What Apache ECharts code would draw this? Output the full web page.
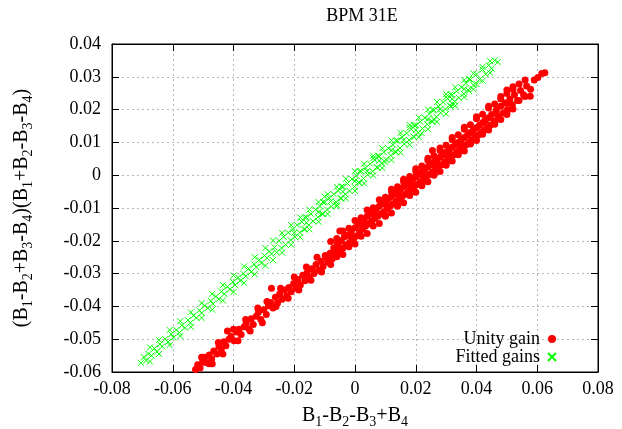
<!DOCTYPE html>
<html><head><meta charset="utf-8">
<script src="https://cdn.jsdelivr.net/npm/echarts@6/dist/echarts.min.js"></script>
<style>html,body{margin:0;padding:0;background:#fff}#c{width:622px;height:429px}</style>
</head><body><div id="c"></div>
<script>
const chartTitle = 'BPM 31E';
const xTicks = [-0.08,-0.06,-0.04,-0.02,0,0.02,0.04,0.06,0.08];
const yTicks = [-0.06,-0.05,-0.04,-0.03,-0.02,-0.01,0,0.01,0.02,0.03,0.04];
const seriesNames = ['Unity gain','Fitted gains'];
const unityGain = [
[-0.0525,-0.0592],[-0.0518,-0.0578],[-0.0510,-0.0588],[-0.0502,-0.0570],[-0.0495,-0.0555],[-0.0488,-0.0572],
[-0.0480,-0.0548],[-0.0472,-0.0560],[-0.0465,-0.0536],[-0.0455,-0.0545],[-0.0448,-0.0522],[-0.0440,-0.0530],
[-0.0432,-0.0508],[-0.0425,-0.0520],[-0.0415,-0.0500],[-0.0408,-0.0492],[-0.0398,-0.0505],[-0.0390,-0.0478],
[-0.0382,-0.0470],[-0.0375,-0.0486],[-0.0365,-0.0462],[-0.0358,-0.0450],[-0.0350,-0.0468],[-0.0342,-0.0438],
[-0.0335,-0.0455],[-0.0325,-0.0430],[-0.0318,-0.0418],[-0.0310,-0.0440],[-0.0300,-0.0410],[-0.0292,-0.0425],
[-0.0285,-0.0398],[-0.0278,-0.0388],[-0.0270,-0.0405],[-0.0262,-0.0372],[-0.0255,-0.0390],[-0.0248,-0.0362],
[-0.0240,-0.0378],[-0.0232,-0.0350],[-0.0225,-0.0368],[-0.0218,-0.0342],[-0.0210,-0.0355],[-0.0202,-0.0330],
[-0.0195,-0.0345],[-0.0188,-0.0318],[-0.0180,-0.0335],[-0.0172,-0.0305],[-0.0165,-0.0322],[-0.0158,-0.0298],
[-0.0150,-0.0312],[-0.0142,-0.0285],[-0.0135,-0.0300],[-0.0128,-0.0272],[-0.0120,-0.0290],[-0.0112,-0.0262],
[-0.0105,-0.0278],[-0.0098,-0.0245],[-0.0090,-0.0265],[-0.0082,-0.0238],[-0.0075,-0.0255],[-0.0070,-0.0222],
[-0.0065,-0.0240],[-0.0058,-0.0208],[-0.0052,-0.0232],[-0.0045,-0.0200],[-0.0040,-0.0222],[-0.0035,-0.0188],
[-0.0030,-0.0212],[-0.0022,-0.0182],[-0.0018,-0.0205],[-0.0012,-0.0172],[-0.0005,-0.0195],[0.0000,-0.0160],
[0.0005,-0.0185],[0.0010,-0.0150],[0.0015,-0.0172],[0.0020,-0.0140],[0.0025,-0.0165],[0.0030,-0.0135],
[0.0035,-0.0155],[0.0040,-0.0125],[0.0045,-0.0148],[0.0050,-0.0118],[0.0055,-0.0140],[0.0060,-0.0110],
[0.0065,-0.0132],[0.0070,-0.0102],[0.0075,-0.0125],[0.0080,-0.0095],[0.0085,-0.0118],[0.0090,-0.0088],
[0.0095,-0.0112],[0.0100,-0.0080],[0.0105,-0.0102],[0.0110,-0.0072],[0.0115,-0.0095],[0.0120,-0.0065],
[0.0125,-0.0088],[0.0130,-0.0058],[0.0135,-0.0080],[0.0140,-0.0050],[0.0145,-0.0072],[0.0150,-0.0042],
[0.0155,-0.0065],[0.0160,-0.0035],[0.0165,-0.0058],[0.0170,-0.0028],[0.0175,-0.0050],[0.0180,-0.0020],
[0.0185,-0.0042],[0.0190,-0.0012],[0.0195,-0.0035],[0.0200,-0.0005],[0.0205,-0.0028],[0.0210,0.0002],
[0.0215,-0.0020],[0.0220,0.0010],[0.0225,-0.0012],[0.0230,0.0018],[0.0235,-0.0005],[0.0240,0.0025],
[0.0245,0.0002],[0.0250,0.0032],[0.0255,0.0010],[0.0260,0.0040],[0.0265,0.0018],[0.0270,0.0048],
[0.0275,0.0025],[0.0280,0.0055],[0.0285,0.0032],[0.0290,0.0062],[0.0295,0.0040],[0.0300,0.0070],
[0.0305,0.0048],[0.0310,0.0078],[0.0315,0.0055],[0.0320,0.0085],[0.0325,0.0062],[0.0330,0.0092],
[0.0335,0.0070],[0.0340,0.0100],[0.0345,0.0078],[0.0350,0.0108],[0.0355,0.0085],[0.0360,0.0115],
[0.0365,0.0092],[0.0370,0.0122],[0.0375,0.0100],[0.0380,0.0130],[0.0385,0.0108],[0.0390,0.0138],
[0.0395,0.0115],[0.0400,0.0145],[0.0405,0.0122],[0.0410,0.0152],[0.0415,0.0130],[0.0420,0.0160],
[0.0425,0.0138],[0.0430,0.0168],[0.0435,0.0145],[0.0440,0.0175],[0.0445,0.0152],[0.0450,0.0185],
[0.0458,0.0165],[0.0465,0.0198],[0.0472,0.0178],[0.0480,0.0210],[0.0488,0.0190],[0.0495,0.0220],
[0.0502,0.0200],[0.0510,0.0232],[0.0518,0.0215],[0.0525,0.0245],[0.0535,0.0228],[0.0545,0.0258],
[0.0555,0.0245],[0.0565,0.0272],[0.0578,0.0262],[0.0590,0.0290],[0.0602,0.0298],[0.0615,0.0310],
[0.0625,0.0312],
[-0.0095,-0.0250],[-0.0055,-0.0218],[-0.0015,-0.0186],[0.0025,-0.0152],[0.0065,-0.0120],[0.0105,-0.0090],
[0.0145,-0.0058],[0.0185,-0.0026],[0.0225,0.0006],[0.0265,0.0036],[0.0305,0.0068],[0.0345,0.0100],
[0.0385,0.0132],[0.0425,0.0164],[0.0465,0.0190],[0.0505,0.0222],
[-0.0275,-0.0345],[-0.0050,-0.0170],[0.0100,-0.0125],[0.0255,0.0075],[0.0380,0.0095],[0.0577,0.0241],
[0.0500,0.0260],[-0.0420,-0.0475],[-0.0480,-0.0575],
[0.0120,-0.0050],[0.0160,-0.0020],[0.0200,0.0012],[0.0240,0.0045],[0.0280,0.0075],[0.0320,0.0108],
[0.0360,0.0140],[0.0400,0.0172],[0.0440,0.0205],[0.0480,0.0232],[0.0520,0.0262],
[0.0140,-0.0095],[0.0180,-0.0062],[0.0220,-0.0032],[0.0260,0.0000],[0.0300,0.0030],[0.0340,0.0062],
[0.0420,0.0125],[0.0460,0.0155],[0.0500,0.0185],
[-0.0505,-0.0555],[-0.0470,-0.0575],[-0.0450,-0.0510],[-0.0435,-0.0545],[-0.0400,-0.0470],[-0.0385,-0.0505],
[-0.0360,-0.0440],[-0.0345,-0.0475],[-0.0320,-0.0405],[-0.0305,-0.0450],[-0.0290,-0.0385],[-0.0260,-0.0400],
[-0.0245,-0.0345],[-0.0220,-0.0375],[-0.0200,-0.0310],[-0.0185,-0.0350],[-0.0160,-0.0280],[-0.0145,-0.0320],
[-0.0125,-0.0250],[-0.0110,-0.0295],
[-0.0080,-0.0202],[-0.0080,-0.0272],[-0.0040,-0.0170],[-0.0040,-0.0242],[0.0000,-0.0138],[0.0000,-0.0210],
[0.0040,-0.0106],[0.0040,-0.0178],[0.0080,-0.0075],[0.0080,-0.0147],[0.0120,-0.0043],[0.0120,-0.0115],
[0.0160,-0.0012],[0.0160,-0.0084],[0.0200,0.0020],[0.0200,-0.0052],[0.0240,0.0052],[0.0240,-0.0020],
[0.0280,0.0083],[0.0280,0.0011],[0.0320,0.0115],[0.0320,0.0043],[0.0360,0.0146],[0.0360,0.0074],
[0.0400,0.0178],[0.0400,0.0106],[0.0440,0.0210],[0.0440,0.0138],[0.0480,0.0240],[0.0480,0.0170],
[0.0520,0.0270],[0.0520,0.0202],[0.0560,0.0290],[0.0560,0.0240],
[-0.0060,-0.0193],[-0.0060,-0.0249],[-0.0020,-0.0162],[-0.0020,-0.0218],[0.0020,-0.0130],[0.0020,-0.0186],
[0.0060,-0.0099],[0.0060,-0.0155],[0.0100,-0.0067],[0.0100,-0.0123],[0.0140,-0.0035],[0.0140,-0.0091],
[0.0180,-0.0004],[0.0180,-0.0060],[0.0220,0.0028],[0.0220,-0.0028],[0.0260,0.0059],[0.0260,0.0003],
[0.0300,0.0091],[0.0300,0.0035],[0.0340,0.0123],[0.0340,0.0067],[0.0380,0.0154],[0.0380,0.0098],
[0.0420,0.0186],[0.0420,0.0130],[0.0460,0.0217],[0.0460,0.0161],[0.0500,0.0249],[0.0500,0.0193],
[0.0540,0.0278],[0.0540,0.0228]
];
const fittedGains = [
[-0.0705,-0.0572],[-0.0695,-0.0555],[-0.0688,-0.0565],[-0.0680,-0.0545],[-0.0670,-0.0550],[-0.0660,-0.0528],
[-0.0652,-0.0538],[-0.0642,-0.0515],[-0.0635,-0.0522],[-0.0625,-0.0500],[-0.0615,-0.0508],[-0.0605,-0.0485],
[-0.0598,-0.0495],[-0.0588,-0.0472],[-0.0578,-0.0480],[-0.0570,-0.0458],[-0.0560,-0.0465],[-0.0550,-0.0442],
[-0.0542,-0.0450],[-0.0532,-0.0428],[-0.0522,-0.0435],[-0.0512,-0.0412],[-0.0505,-0.0420],[-0.0495,-0.0398],
[-0.0485,-0.0405],[-0.0475,-0.0383],[-0.0468,-0.0392],[-0.0458,-0.0370],[-0.0448,-0.0378],[-0.0440,-0.0355],
[-0.0430,-0.0362],[-0.0420,-0.0340],[-0.0412,-0.0348],[-0.0402,-0.0325],[-0.0395,-0.0335],[-0.0385,-0.0312],
[-0.0378,-0.0322],[-0.0368,-0.0300],[-0.0360,-0.0308],[-0.0350,-0.0285],[-0.0342,-0.0295],[-0.0332,-0.0272],
[-0.0325,-0.0280],[-0.0315,-0.0258],[-0.0308,-0.0268],[-0.0298,-0.0245],[-0.0290,-0.0252],[-0.0282,-0.0232],
[-0.0275,-0.0240],[-0.0265,-0.0220],
[-0.0258,-0.0235],[-0.0250,-0.0200],[-0.0242,-0.0222],[-0.0235,-0.0188],[-0.0228,-0.0212],[-0.0220,-0.0175],
[-0.0212,-0.0198],[-0.0205,-0.0165],[-0.0198,-0.0188],[-0.0190,-0.0152],[-0.0182,-0.0175],[-0.0175,-0.0142],
[-0.0168,-0.0165],[-0.0160,-0.0128],[-0.0152,-0.0152],[-0.0145,-0.0118],[-0.0138,-0.0140],[-0.0130,-0.0105],
[-0.0122,-0.0128],[-0.0115,-0.0095],[-0.0108,-0.0118],[-0.0100,-0.0082],[-0.0092,-0.0105],[-0.0085,-0.0070],
[-0.0078,-0.0095],[-0.0070,-0.0058],[-0.0062,-0.0082],[-0.0055,-0.0048],[-0.0048,-0.0070],[-0.0040,-0.0035],
[-0.0032,-0.0058],[-0.0025,-0.0025],[-0.0018,-0.0048],[-0.0010,-0.0012],[-0.0002,-0.0035],[0.0005,-0.0002],
[0.0012,-0.0022],[0.0020,0.0012],[0.0028,-0.0010],[0.0035,0.0022],[0.0042,0.0002],[0.0050,0.0035],
[0.0058,0.0012],[0.0065,0.0046],[0.0072,0.0024],[0.0080,0.0058],[0.0088,0.0036],[0.0095,0.0070],
[0.0102,0.0048],[0.0110,0.0082],[0.0118,0.0060],[0.0125,0.0093],[0.0132,0.0072],[0.0140,0.0105],
[0.0148,0.0083],[0.0155,0.0117],[0.0162,0.0095],[0.0170,0.0128],[0.0178,0.0107],[0.0185,0.0140],
[0.0192,0.0118],[0.0200,0.0152],[0.0208,0.0130],[0.0215,0.0163],[0.0222,0.0142],[0.0230,0.0175],
[0.0238,0.0155],[0.0245,0.0187],[0.0252,0.0165],[0.0260,0.0198],[0.0268,0.0178],[0.0275,0.0210],
[0.0282,0.0190],[0.0290,0.0222],[0.0298,0.0202],[0.0305,0.0233],[0.0312,0.0213],[0.0320,0.0245],
[0.0328,0.0225],[0.0335,0.0256],[0.0342,0.0236],[0.0350,0.0268],[0.0358,0.0248],[0.0365,0.0280],
[0.0372,0.0260],[0.0380,0.0292],[0.0390,0.0275],[0.0400,0.0308],[0.0410,0.0292],[0.0420,0.0322],
[0.0430,0.0308],[0.0440,0.0335],[0.0450,0.0325],[0.0460,0.0350],[0.0470,0.0345],
[0.0400,0.0278],[0.0323,0.0215],
[-0.0200,-0.0176],[-0.0160,-0.0145],[-0.0120,-0.0112],[-0.0080,-0.0080],[-0.0040,-0.0050],[0.0000,-0.0018],
[0.0040,0.0012],[0.0080,0.0044],[0.0120,0.0076],[0.0160,0.0107],[0.0200,0.0138],[0.0240,0.0170],
[0.0280,0.0201],[0.0320,0.0232],[0.0360,0.0263],
[-0.0100,-0.0065],[-0.0060,-0.0090],[0.0060,0.0052],[0.0100,0.0040],[0.0180,0.0145],[0.0220,0.0128],
[0.0300,0.0238],[0.0260,0.0170],
[-0.0675,-0.0525],[-0.0675,-0.0568],[-0.0645,-0.0502],[-0.0645,-0.0545],[-0.0610,-0.0472],[-0.0610,-0.0518],
[-0.0575,-0.0445],[-0.0575,-0.0490],[-0.0540,-0.0418],[-0.0540,-0.0462],[-0.0505,-0.0390],[-0.0505,-0.0435],
[-0.0470,-0.0362],[-0.0470,-0.0410],[-0.0435,-0.0335],[-0.0435,-0.0382],[-0.0400,-0.0306],[-0.0400,-0.0356],
[-0.0365,-0.0278],[-0.0365,-0.0328],[-0.0330,-0.0250],[-0.0330,-0.0302],[-0.0295,-0.0222],[-0.0295,-0.0276],
[-0.0270,-0.0199],[-0.0270,-0.0259],[-0.0240,-0.0176],[-0.0240,-0.0236],[-0.0210,-0.0152],[-0.0210,-0.0212],
[-0.0180,-0.0129],[-0.0180,-0.0189],[-0.0150,-0.0105],[-0.0150,-0.0165],[-0.0120,-0.0082],[-0.0120,-0.0142],
[-0.0090,-0.0058],[-0.0090,-0.0118],[-0.0060,-0.0035],[-0.0060,-0.0095],[-0.0030,-0.0011],[-0.0030,-0.0071],
[0.0000,0.0012],[0.0000,-0.0048],[0.0030,0.0035],[0.0030,-0.0025],[0.0060,0.0059],[0.0060,-0.0001],
[0.0090,0.0082],[0.0090,0.0022],[0.0120,0.0106],[0.0120,0.0046],[0.0150,0.0129],[0.0150,0.0069],
[0.0180,0.0153],[0.0180,0.0093],[0.0210,0.0176],[0.0210,0.0116],[0.0240,0.0200],[0.0240,0.0140],
[0.0270,0.0223],[0.0270,0.0163],[0.0300,0.0247],[0.0300,0.0187],[0.0330,0.0268],[0.0330,0.0212],
[0.0360,0.0290],[0.0360,0.0238],[0.0390,0.0310],[0.0390,0.0262],[0.0420,0.0330],[0.0420,0.0288],
[0.0445,0.0348],[0.0445,0.0312],
[-0.0165,-0.0129],[-0.0165,-0.0165],[-0.0105,-0.0082],[-0.0105,-0.0118],[-0.0045,-0.0035],[-0.0045,-0.0071],
[0.0015,0.0012],[0.0015,-0.0024],[0.0075,0.0059],[0.0075,0.0023],[0.0135,0.0106],[0.0135,0.0070],
[0.0195,0.0152],[0.0195,0.0116],[0.0255,0.0199],[0.0255,0.0163],[0.0315,0.0246],[0.0315,0.0210],
[0.0375,0.0293],[0.0375,0.0257]
];

const serif = "'Liberation Serif','DejaVu Serif',serif";
const fmt = v => Math.abs(v) < 1e-9 ? '0' : v.toFixed(2);
const chart = echarts.init(document.getElementById('c'), null, {renderer: 'canvas'});
const xMin = xTicks[0], xMax = xTicks[xTicks.length-1], xInt = +(xTicks[1]-xTicks[0]).toFixed(4);
const yMin = yTicks[0], yMax = yTicks[yTicks.length-1], yInt = +(yTicks[1]-yTicks[0]).toFixed(4);
const tickStyle = {show: true, inside: true, length: 7, lineStyle: {color: '#000', width: 1}};
const splitStyle = {show: true, lineStyle: {color: '#b8b8b8', type: [2, 3], width: 1}};
const sub = {fontSize: 14, fontFamily: serif, color: '#000', verticalAlign: 'bottom', padding: [7, 0, 0, 0]};
chart.setOption({
  animation: false,
  backgroundColor: '#fff',
  title: {text: chartTitle, left: 357, top: 2, textAlign: 'center',
    textStyle: {fontFamily: serif, fontSize: 18, fontWeight: 'normal', color: '#000'}},
  grid: {left: 112, right: 24, top: 44, bottom: 57, show: true, borderColor: '#000', borderWidth: 1,
    containLabel: false, outerBoundsMode: 'none'},
  legend: {orient: 'vertical', right: 60, bottom: 58, align: 'right', itemGap: 0, itemWidth: 8, itemHeight: 8,
    data: seriesNames,
    textStyle: {fontFamily: serif, fontSize: 18, color: '#000', padding: [0, 3, 0, 0]}},
  xAxis: [{
    type: 'value', min: xMin, max: xMax, interval: xInt, position: 'bottom',
    name: 'B{s|1}-B{s|2}-B{s|3}+B{s|4}', nameLocation: 'middle', nameGap: 26,
    nameTextStyle: {fontFamily: serif, fontSize: 20, color: '#000', lineHeight: 26, rich: {s: sub}},
    axisLine: {show: true, onZero: false, lineStyle: {color: '#000'}},
    axisTick: tickStyle, splitLine: splitStyle,
    axisLabel: {fontFamily: serif, fontSize: 18, color: '#000', margin: 8, formatter: fmt}
  }, {
    type: 'value', min: xMin, max: xMax, interval: xInt, position: 'top',
    axisLine: {show: true, onZero: false, lineStyle: {color: '#000'}},
    axisTick: tickStyle, axisLabel: {show: false}, splitLine: {show: false}
  }],
  yAxis: [{
    type: 'value', min: yMin, max: yMax, interval: yInt, position: 'left',
    name: '(B{s|1}-B{s|2}+B{s|3}-B{s|4})(B{s|1}+B{s|2}-B{s|3}-B{s|4})', nameLocation: 'middle', nameGap: 77, nameRotate: 90,
    nameTextStyle: {fontFamily: serif, fontSize: 20, color: '#000', lineHeight: 26, rich: {s: sub}},
    axisLine: {show: true, onZero: false, lineStyle: {color: '#000'}},
    axisTick: tickStyle, splitLine: splitStyle,
    axisLabel: {fontFamily: serif, fontSize: 18, color: '#000', margin: 11, formatter: fmt}
  }, {
    type: 'value', min: yMin, max: yMax, interval: yInt, position: 'right',
    axisLine: {show: true, onZero: false, lineStyle: {color: '#000'}},
    axisTick: tickStyle, axisLabel: {show: false}, splitLine: {show: false}
  }],
  series: [{
    name: seriesNames[0], type: 'scatter', data: unityGain, symbol: 'circle', symbolSize: 7,
    itemStyle: {color: '#ff0000', opacity: 1}, xAxisIndex: 0, yAxisIndex: 0, z: 3
  }, {
    name: seriesNames[1], type: 'scatter', data: fittedGains, symbol: 'path://M0,0L10,10M10,0L0,10', symbolSize: 6,
    itemStyle: {color: 'rgba(0,0,0,0)', borderColor: '#00ff00', borderWidth: 1, opacity: 1}, xAxisIndex: 0, yAxisIndex: 0, z: 2
  }]
});
</script></body></html>
